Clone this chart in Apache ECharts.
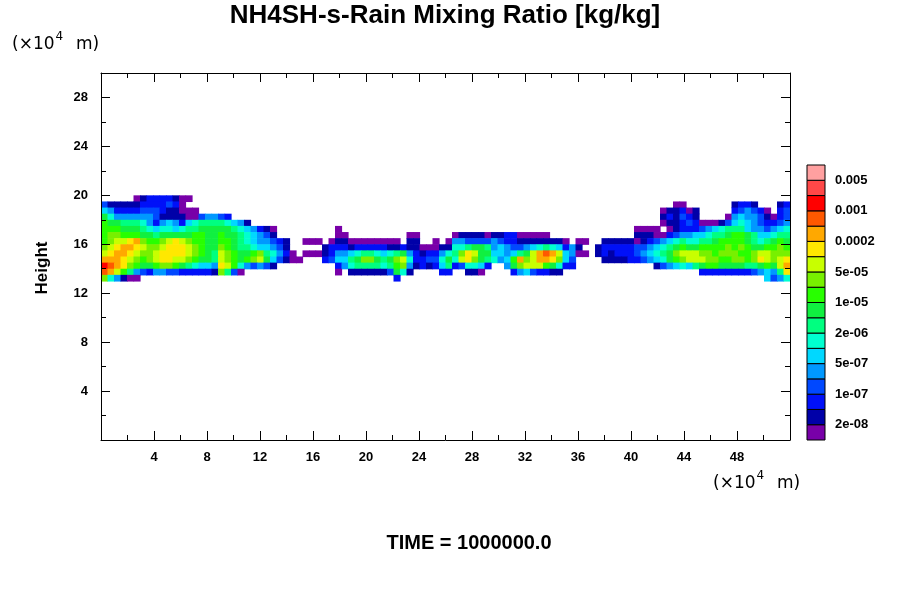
<!DOCTYPE html>
<html>
<head>
<meta charset="utf-8">
<script src="https://cdn.jsdelivr.net/npm/echarts@6/dist/echarts.min.js"></script>
<style>html,body{margin:0;padding:0;background:#fff}#c{width:900px;height:600px}</style>
</head>
<body>
<div id="c"></div>
<script>
// ---- axes ----
const xRange = [0, 52];          // x (10^4 m)
const yRange = [0, 30];          // height (10^4 m)
const yTop = 20;                 // top of the sampled field band
const nCols = 106;               // grid columns across x
const dy = 0.5;                  // row height (10^4 m)

// ---- colour levels (bottom -> top of colour bar) ----
const levelColors = ['#7800A8','#0000A8','#0010F8','#0048FF','#0098FF','#00D8FF','#00FFD0','#00FF80','#10F040',
  '#28FF00','#78F000','#C8FF00','#FFE800','#FFA800','#FF5800','#FF0000','#FF4848','#FFA0A0'];
const levelBoundaries = ['','2e-08','5e-08','1e-07','2e-07','5e-07','1e-06','2e-06','5e-06','1e-05',
  '2e-05','5e-05','0.0001','0.0002','0.0005','0.001','0.002','0.005'];
const labeledBoundaries = ['2e-08','1e-07','5e-07','2e-06','1e-05','5e-05','0.0002','0.001','0.005'];

// ---- field: level index per cell ('.' = none, 1-9, a=10 .. i=18), rows from y=20 downward ----
const segW = [18,18,18,18,18,16];
const fieldRows = [
  ['.....123333211....','..................','..................','..................','..................','................'],
  ['4222223333431.....','..................','..................','..................','................11','.......2332...23'],
  ['653333444322111...','..................','..................','..................','..............1223','12.....345431.34'],
  ['975555554222211455','43................','..................','..................','..............2324','32....1565542134'],
  ['a99888753565367888','87652.............','..................','..................','..............1223','4311124676543345'],
  ['aaa999876776788999','998765321.........','1.................','..................','..........1111.123','3345678886554567'],
  ['abbaaa99899999aa99','a99876542.........','11.........11.....','122221223311111...','..........22211345','5667889aa9866788'],
  ['abccdebaabcdcbaa99','aa987655432..111.1','2211111111.22..1.1','554444543322222221','.11..2222212345678','77889aaaa98789a9'],
  ['bcdeedcbbcdddcba99','ba988766542.....23','332333332232211122','778998565445678763','52..2333334456789a','99aaaababa99aaba'],
  ['cdeedcbbcddddcba98','cba99ab87531.11123','556788767895323357','8bdc99665689cefec6','511.232333456789bc','ccbbabbbaabccbbb'],
  ['eeedcbabcddccba998','cba9abc964211...34','6689bb989bc7334479','7cdb98756aebceedb6','4....22223345679ab','cccbbaabbabdcbcd'],
  ['gfedba99abba987665','dca754542.........','357888878ab5232368','347763..59bccca973','3............24567','689aa9999889a9ce'],
  ['feca85435544333332','b841..............','1.2222224972....33','..221....35643322.','..................','..3333333345658d'],
  ['b75211............','..................','.........3........','..................','..................','............6457']
];

const dx = (xRange[1] - xRange[0]) / nCols;
const cells = [];
fieldRows.forEach((segs, j) => {
  const row = segs.map((s, k) => s.padEnd(segW[k], '.').slice(0, segW[k])).join('');
  for (let i = 0; i < row.length; i++) {
    const ch = row[i];
    if (ch !== '.') cells.push([i, j, parseInt(ch, 36)]);
  }
});

const FONT = 'Liberation Sans, Arial, sans-serif';
const tickLabel = {fontFamily: FONT, fontWeight: 'bold', fontSize: 13, color: '#000'};
function mainAxis(extra) {
  return Object.assign({
    type: 'value', gridIndex: 0, z: 10,
    axisLine: {show: true, onZero: false, lineStyle: {color: '#000', width: 1}},
    axisTick: {show: true, inside: true, length: 9, lineStyle: {color: '#000', width: 1}},
    minorTick: {show: true, splitNumber: 2, length: 5, lineStyle: {color: '#000', width: 1}},
    splitLine: {show: false}
  }, extra);
}
const unitRich = {
  a: {fontFamily: 'DejaVu Sans', fontSize: 17, color: '#000', verticalAlign: 'bottom', lineHeight: 22},
  s: {fontFamily: 'DejaVu Sans', fontSize: 12, color: '#000', verticalAlign: 'top', lineHeight: 22, padding: [0, 2, 0, 1]}
};

const chart = echarts.init(document.getElementById('c'), null, {renderer: 'canvas'});
chart.setOption({
  animation: false,
  backgroundColor: '#fff',
  grid: [
    {left: 101, top: 73, width: 689, height: 367},
    {left: 807, top: 165, width: 18, height: 275}
  ],
  xAxis: [
    mainAxis({min: xRange[0], max: xRange[1], interval: 4, position: 'bottom',
      axisLabel: Object.assign({margin: 11, formatter: v => (v > 0 && v < xRange[1]) ? String(v) : ''}, tickLabel)}),
    mainAxis({min: xRange[0], max: xRange[1], interval: 4, position: 'top', axisLabel: {show: false}}),
    {type: 'value', gridIndex: 1, min: 0, max: 1, show: false}
  ],
  yAxis: [
    mainAxis({min: yRange[0], max: yRange[1], interval: 4, position: 'left',
      axisLabel: Object.assign({margin: 13, formatter: v => (v > 0 && v % 4 === 0) ? String(v) : ''}, tickLabel)}),
    mainAxis({min: yRange[0], max: yRange[1], interval: 4, position: 'right', axisLabel: {show: false}}),
    {type: 'value', gridIndex: 1, min: 0, max: levelColors.length, interval: 1, position: 'right',
      axisLine: {show: false}, axisTick: {show: false}, splitLine: {show: false},
      axisLabel: Object.assign({margin: 10, formatter: v => labeledBoundaries.includes(levelBoundaries[v]) ? levelBoundaries[v] : ''}, tickLabel)}
  ],
  series: [
    {
      type: 'custom', xAxisIndex: 0, yAxisIndex: 0, data: cells, z: 2, clip: true,
      renderItem: (params, api) => {
        const i = api.value(0), j = api.value(1), lv = api.value(2);
        const p0 = api.coord([i * dx, yTop - j * dy]);
        const p1 = api.coord([(i + 1) * dx, yTop - (j + 1) * dy]);
        return {type: 'rect', shape: {x: p0[0], y: p0[1], width: p1[0] - p0[0] + 0.6, height: p1[1] - p0[1] + 0.6},
          style: {fill: levelColors[lv - 1]}};
      }
    },
    {
      type: 'custom', xAxisIndex: 2, yAxisIndex: 2, data: levelColors.map((c, k) => [k]),
      renderItem: (params, api) => {
        const k = api.value(0);
        const p0 = api.coord([0, k + 1]);
        const p1 = api.coord([1, k]);
        return {type: 'rect', shape: {x: p0[0], y: p0[1], width: p1[0] - p0[0], height: p1[1] - p0[1]},
          style: {fill: levelColors[k], stroke: '#000', lineWidth: 1}};
      }
    }
  ],
  graphic: [
    {type: 'text', x: 445, y: 16, style: {text: 'NH4SH-s-Rain Mixing Ratio [kg/kg]', fontFamily: FONT, fontWeight: 'bold',
      fontSize: 26, fill: '#000', align: 'center', verticalAlign: 'middle'}},
    {type: 'text', left: 12, top: 31, style: {text: '{a|(×10}{s|4}{a|  m)}', rich: unitRich}},
    {type: 'text', left: 713, top: 470, style: {text: '{a|(×10}{s|4}{a|  m)}', rich: unitRich}},
    {type: 'text', x: 42, y: 268, rotation: Math.PI / 2, style: {text: 'Height', fontFamily: FONT, fontWeight: 'bold',
      fontSize: 17, fill: '#000', align: 'center', verticalAlign: 'middle'}},
    {type: 'text', x: 469, y: 543, style: {text: 'TIME = 1000000.0', fontFamily: FONT, fontWeight: 'bold',
      fontSize: 20, fill: '#000', align: 'center', verticalAlign: 'middle'}}
  ]
});
</script>
</body>
</html>
